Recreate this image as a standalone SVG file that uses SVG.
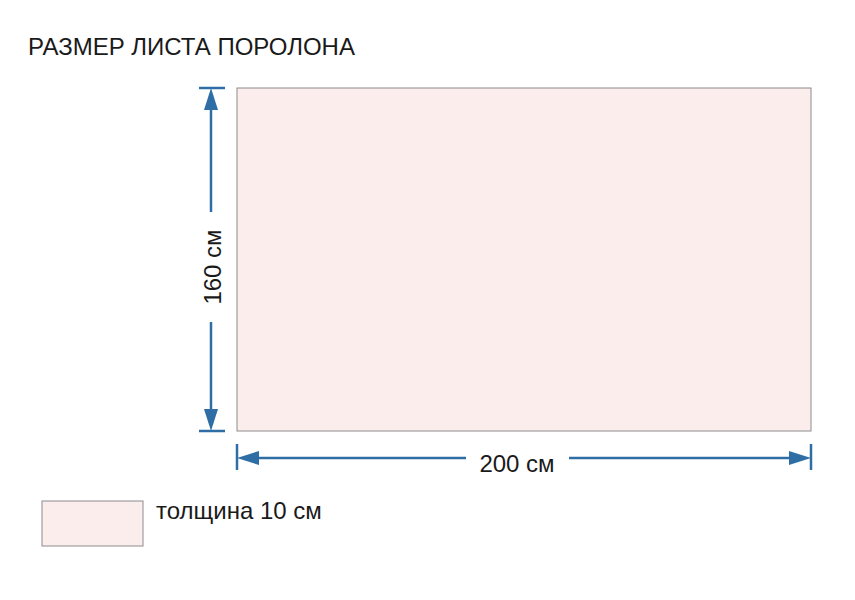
<svg xmlns="http://www.w3.org/2000/svg" width="855" height="600" viewBox="0 0 855 600">
<style>
.t{font-family:"Liberation Sans",Arial,sans-serif;fill:#1a1a1a;font-size:24px}
.sheet{fill:#fceded;stroke:#8c8c8c;stroke-width:1}
.dim{stroke:#2f6ea5;stroke-width:2.5;fill:none}
.ah{fill:#2f6ea5}
</style>
<rect width="855" height="600" fill="#ffffff"/>
<text class="t" x="28" y="55" font-size="25.5">РАЗМЕР ЛИСТА ПОРОЛОНА</text>
<g id="sheet"><rect class="sheet" x="237" y="88" width="574" height="343"/></g>
<g id="connectors">
  <line class="dim" x1="199" y1="88" x2="225" y2="88"/>
  <line class="dim" x1="199" y1="431" x2="225" y2="431"/>
  <line class="dim" x1="211" y1="100" x2="211" y2="212"/>
  <line class="dim" x1="211" y1="322" x2="211" y2="420"/>
  <polygon class="ah" points="211,88 204,110 218,110"/>
  <polygon class="ah" points="211,431 204,409 218,409"/>
  <line class="dim" x1="237" y1="444" x2="237" y2="470"/>
  <line class="dim" x1="811" y1="444" x2="811" y2="470"/>
  <line class="dim" x1="248" y1="458" x2="466" y2="458"/>
  <line class="dim" x1="569" y1="458" x2="800" y2="458"/>
  <polygon class="ah" points="237,458 259,451 259,465"/>
  <polygon class="ah" points="811,458 789,451 789,465"/>
</g>
<text class="t" x="0" y="0" text-anchor="middle" transform="translate(221,267) rotate(-90)">160 см</text>
<text class="t" x="517" y="472" text-anchor="middle">200 см</text>
<g id="legend">
  <rect class="sheet" x="42" y="501" width="101" height="45"/>
  <text class="t" x="156" y="519">толщина 10 см</text>
</g>
</svg>
